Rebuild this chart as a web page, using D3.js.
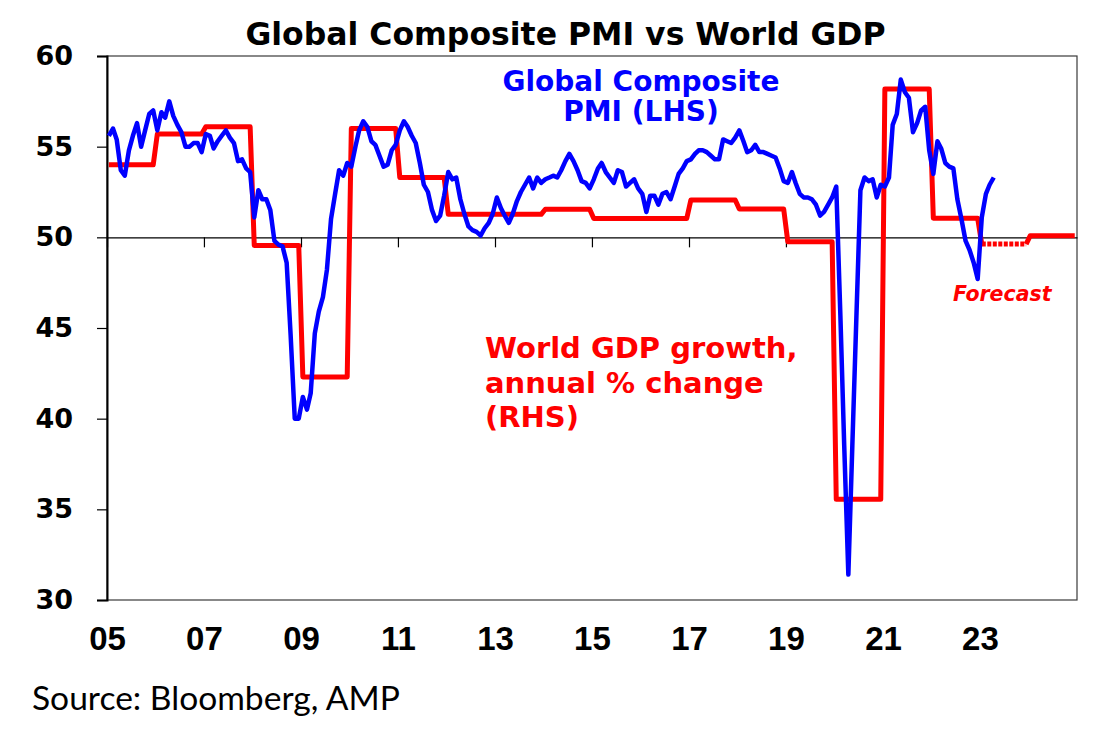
<!DOCTYPE html>
<html>
<head>
<meta charset="utf-8">
<script src="https://cdn.jsdelivr.net/npm/d3@7/dist/d3.min.js"></script>
<style>
body { margin: 0; background: #ffffff; }
.tick text { font-weight: bold; fill: #000000; }
</style>
</head>
<body>
<div id="chart"></div>
<script>
// ----------------------------------------------------------
// DATA -----------------------------------------------------
// ----------------------------------------------------------
// Global Composite PMI, monthly from Jan 2005 to Apr 2023
var pmi_start_year = 2005;
var pmi_values = [
55.6, 56.0, 55.4, 53.7, 53.4, 54.8, 55.6, 56.3, 55.0, 55.9, 56.8, 57.0,
55.9, 56.9, 56.6, 57.5, 56.7, 56.2, 55.8, 55.0, 55.0, 55.2, 55.2, 54.7,
55.7, 55.6, 54.9, 55.3, 55.6, 55.9, 55.5, 55.2, 54.2, 54.3, 53.8, 53.6,
51.1, 52.6, 52.1, 52.1, 51.5, 49.8, 49.6, 49.5, 48.6, 44.6, 40.0, 40.0,
41.2, 40.5, 41.4, 44.7, 45.9, 46.7, 48.2, 51.0, 52.4, 53.7, 53.4, 54.1,
53.9, 55.0, 55.9, 56.4, 56.1, 55.3, 55.1, 54.5, 53.9, 54.0, 54.8, 55.1,
55.9, 56.4, 56.1, 55.6, 55.2, 54.1, 52.9, 52.5, 51.5, 50.9, 51.2, 52.3,
53.6, 53.2, 53.3, 52.1, 51.3, 50.6, 50.4, 50.3, 50.1, 50.5, 50.8, 51.3,
52.2, 51.6, 51.2, 50.8, 51.3, 52.0, 52.5, 52.9, 53.3, 52.7, 53.3, 53.0,
53.2, 53.3, 53.4, 53.3, 53.7, 54.2, 54.6, 54.2, 53.7, 53.1, 53.0, 52.7,
53.2, 53.8, 54.1, 53.6, 53.3, 53.0, 53.7, 53.6, 52.8, 53.0, 53.2, 52.7,
52.4, 51.4, 52.3, 52.3, 51.8, 52.4, 52.5, 52.1, 52.8, 53.5, 53.8, 54.2,
54.3, 54.6, 54.8, 54.8, 54.7, 54.5, 54.3, 54.3, 55.4, 55.3, 55.2, 55.5,
55.9, 55.3, 54.7, 54.8, 55.1, 54.7, 54.7, 54.6, 54.5, 54.4, 53.8, 53.1,
53.0, 53.6, 53.0, 52.4, 52.2, 52.2, 52.1, 51.8, 51.2, 51.4, 51.8, 52.2,
52.8, 45.7, 38.5, 31.4, 38.5, 45.7, 52.6, 53.3, 53.1, 53.2, 52.2, 52.9,
52.8, 53.3, 56.2, 56.8, 58.7, 58.0, 57.7, 55.8, 56.3, 57.0, 57.2, 54.8,
53.5, 55.3, 54.9, 54.1, 53.9, 53.8, 52.1, 51.0, 49.8, 49.3, 48.6, 47.7,
51.1, 52.4, 52.9, 53.3
];
// World GDP growth, annual (as plotted against the left scale)
var gdp_years = [2005, 2006, 2007, 2008, 2009, 2010, 2011, 2012, 2013, 2014,
2015, 2016, 2017, 2018, 2019, 2020, 2021, 2022, 2023, 2024];
var gdp_values = [54.0, 55.7, 56.1, 49.55, 42.3, 56.0, 53.3, 51.27, 51.27, 51.55,
51.04, 51.04, 52.06, 51.56, 49.76, 35.55, 58.18, 51.05, 49.63, 50.09];
var forecast_year = 2023;
// axes
var y_ticks = [30, 35, 40, 45, 50, 55, 60];
var x_tick_years = [2005, 2007, 2009, 2011, 2013, 2015, 2017, 2019, 2021, 2023];
var x_tick_labels = ["05", "07", "09", "11", "13", "15", "17", "19", "21", "23"];
var x_domain_years = [2005, 2025];

// ----------------------------------------------------------
// SETTINGS -------------------------------------------------
// ----------------------------------------------------------
var width = 1100;
var height = 747;
var plot_left = 107;
var plot_right = 1077;
var plot_top = 56;
var plot_bottom = 600;
var color_blue = "#0000ff";
var color_red = "#ff0000";
var font_bold = "'DejaVu Sans', sans-serif";

// ----------------------------------------------------------
// STRUCTURE ------------------------------------------------
// ----------------------------------------------------------
var svg = d3.select("#chart").append("svg")
.attr("width", width)
.attr("height", height)
.style("background-color", "#ffffff");

var x = d3.scaleTime()
.domain([new Date(x_domain_years[0], 0, 1), new Date(x_domain_years[1], 0, 1)])
.range([plot_left, plot_right]);
var y = d3.scaleLinear()
.domain([30, 60])
.range([plot_bottom, plot_top]);

// series built from the arrays above (mid-month points)
var pmi_data = pmi_values.map(function(v, i) {
return { date: new Date(pmi_start_year, i, 15), value: v };
});
var gdp_data = [];
gdp_years.forEach(function(yr, k) {
for (var m = 0; m < 12; m++) {
gdp_data.push({ year: yr, date: new Date(yr, m, 15), value: gdp_values[k] });
}
});

// ----------------------------------------------------------
// FRAME + AXES ---------------------------------------------
// ----------------------------------------------------------
svg.append("rect")
.attr("x", plot_left)
.attr("y", plot_top)
.attr("width", plot_right - plot_left)
.attr("height", plot_bottom - plot_top)
.attr("fill", "none")
.attr("stroke", "#3a3a3a")
.attr("stroke-width", 1.2);

// left axis
svg.append("g")
.attr("class", "y_axis")
.attr("transform", "translate(" + plot_left + ",0)")
.call(d3.axisLeft(y).tickValues(y_ticks).tickSize(10).tickPadding(24))
.call(function(g) {
g.select(".domain").attr("stroke", "#000").attr("stroke-width", 2);
g.selectAll(".tick line").attr("stroke", "#000").attr("stroke-width", 1.2);
g.selectAll(".tick text")
.style("font-family", font_bold)
.style("font-size", "27px");
});

// axis line at 50 with year ticks
var x_tick_dates = x_tick_years.map(function(yr) { return new Date(yr, 0, 1); });
svg.append("g")
.attr("class", "x_axis_mid")
.attr("transform", "translate(0," + y(50) + ")")
.call(d3.axisBottom(x).tickValues(x_tick_dates).tickSize(10).tickSizeOuter(0).tickFormat(""))
.call(function(g) {
g.select(".domain").attr("stroke", "#000").attr("stroke-width", 1.2);
g.selectAll(".tick line").attr("stroke", "#000").attr("stroke-width", 1.2);
});

// year labels under the plot
svg.append("g")
.attr("class", "x_axis_labels")
.attr("transform", "translate(0," + plot_bottom + ")")
.call(d3.axisBottom(x).tickValues(x_tick_dates).tickSize(0).tickPadding(27)
.tickFormat(function(d, i) { return x_tick_labels[i]; }))
.call(function(g) {
g.select(".domain").remove();
g.selectAll(".tick text")
.style("font-family", "'Liberation Sans', Arial, sans-serif")
.style("font-size", "33px");
});

// ----------------------------------------------------------
// LINES ----------------------------------------------------
// ----------------------------------------------------------
var line = d3.line()
.x(function(d) { return x(d.date); })
.y(function(d) { return y(d.value); });

var gdp_before = gdp_data.filter(function(d, i) {
return d.year < forecast_year || (d.year == forecast_year && gdp_data[i - 1].year < forecast_year);
});
var gdp_forecast = gdp_data.filter(function(d) { return d.year == forecast_year; });
var gdp_after = gdp_data.filter(function(d, i) {
return d.year > forecast_year || (d.year == forecast_year && gdp_data[i + 1] && gdp_data[i + 1].year > forecast_year);
});

var lines_group = svg.append("g").attr("class", "lines");

lines_group.append("path")
.datum(gdp_before)
.attr("d", line)
.attr("fill", "none")
.attr("stroke", color_red)
.attr("stroke-width", 5)
.attr("stroke-linejoin", "round");
lines_group.append("path")
.datum(gdp_forecast)
.attr("d", line)
.attr("fill", "none")
.attr("stroke", color_red)
.attr("stroke-width", 5)
.attr("stroke-dasharray", "4,1.5");
lines_group.append("path")
.datum(gdp_after)
.attr("d", line)
.attr("fill", "none")
.attr("stroke", color_red)
.attr("stroke-width", 5)
.attr("stroke-linejoin", "round");

lines_group.append("path")
.datum(pmi_data)
.attr("d", line)
.attr("fill", "none")
.attr("stroke", color_blue)
.attr("stroke-width", 4.5)
.attr("stroke-linejoin", "round");

// ----------------------------------------------------------
// TEXT -----------------------------------------------------
// ----------------------------------------------------------
var text_group = svg.append("g").attr("class", "texts")
.style("font-family", font_bold)
.style("font-weight", "bold");

text_group.append("text")
.attr("x", 565.5)
.attr("y", 45)
.attr("text-anchor", "middle")
.style("font-size", "31.5px")
.style("fill", "#000")
.text("Global Composite PMI vs World GDP");

var blue_label = ["Global Composite", "PMI (LHS)"];
text_group.selectAll(".label_blue")
.data(blue_label)
.enter()
.append("text")
.attr("class", "label_blue")
.attr("x", 641)
.attr("y", function(d, i) { return 91 + i * 30; })
.attr("text-anchor", "middle")
.style("font-size", "28px")
.style("fill", color_blue)
.text(function(d) { return d; });

var red_label = ["World GDP growth,", "annual % change", "(RHS)"];
text_group.selectAll(".label_red")
.data(red_label)
.enter()
.append("text")
.attr("class", "label_red")
.attr("x", 485)
.attr("y", function(d, i) { return 358 + i * 34.5; })
.style("font-size", "29px")
.style("fill", color_red)
.text(function(d) { return d; });

text_group.append("text")
.attr("x", 953)
.attr("y", 301)
.style("font-size", "20.5px")
.style("font-style", "italic")
.style("fill", color_red)
.text("Forecast");

svg.append("text")
.attr("x", 32)
.attr("y", 710)
.style("font-family", "Lato, 'Open Sans', sans-serif")
.style("font-size", "33.6px")
.style("fill", "#000")
.text("Source: Bloomberg, AMP");
</script>
</body>
</html>
